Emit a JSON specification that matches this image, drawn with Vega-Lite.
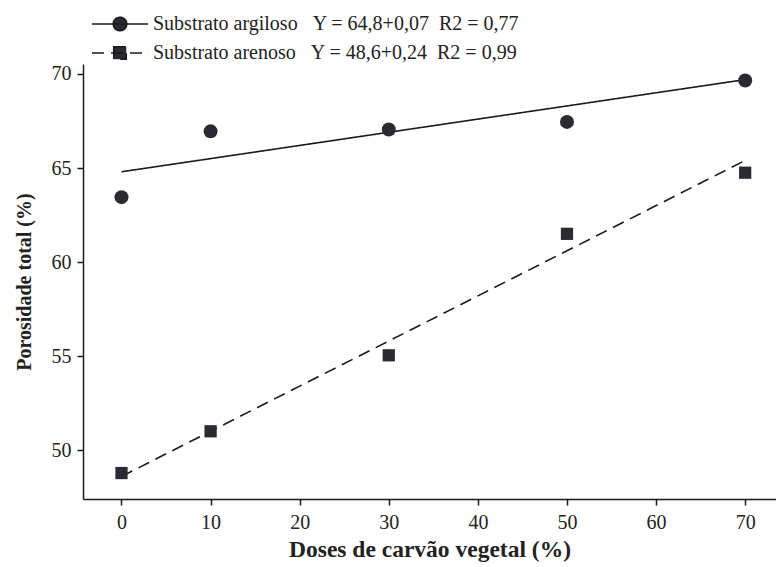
{
  "$schema": "https://vega.github.io/schema/vega-lite/v6.json",
  "autosize": "none",
  "width": 693,
  "height": 435,
  "padding": {"left": 83, "top": 64, "right": 0, "bottom": 68},
  "background": "white",
  "config": {
    "view": {"stroke": null},
    "font": "Liberation Serif",
    "axis": {
      "grid": false,
      "domainColor": "#1a1a1a",
      "domainWidth": 1.5,
      "tickColor": "#1a1a1a",
      "tickWidth": 1.5,
      "tickSize": 6,
      "labelFont": "Liberation Serif",
      "labelFontSize": 20,
      "labelColor": "#222222",
      "titleFont": "Liberation Serif",
      "titleFontSize": 20,
      "titleFontWeight": "bold",
      "titleColor": "#222222"
    }
  },
  "data": {
    "values": [
      {"dose": 0, "porosidade": 63.45, "substrato": "Substrato argiloso", "tipo": "obs"},
      {"dose": 10, "porosidade": 66.95, "substrato": "Substrato argiloso", "tipo": "obs"},
      {"dose": 30, "porosidade": 67.05, "substrato": "Substrato argiloso", "tipo": "obs"},
      {"dose": 50, "porosidade": 67.45, "substrato": "Substrato argiloso", "tipo": "obs"},
      {"dose": 70, "porosidade": 69.65, "substrato": "Substrato argiloso", "tipo": "obs"},
      {"dose": 0, "porosidade": 48.78, "substrato": "Substrato arenoso", "tipo": "obs"},
      {"dose": 10, "porosidade": 51.0, "substrato": "Substrato arenoso", "tipo": "obs"},
      {"dose": 30, "porosidade": 55.04, "substrato": "Substrato arenoso", "tipo": "obs"},
      {"dose": 50, "porosidade": 61.5, "substrato": "Substrato arenoso", "tipo": "obs"},
      {"dose": 70, "porosidade": 64.75, "substrato": "Substrato arenoso", "tipo": "obs"},
      {"dose": 0, "porosidade": 64.8, "substrato": "Substrato argiloso", "tipo": "fit"},
      {"dose": 70, "porosidade": 69.7, "substrato": "Substrato argiloso", "tipo": "fit"},
      {"dose": 0, "porosidade": 48.6, "substrato": "Substrato arenoso", "tipo": "fit"},
      {"dose": 70, "porosidade": 65.4, "substrato": "Substrato arenoso", "tipo": "fit"}
    ]
  },
  "encoding": {
    "x": {
      "field": "dose",
      "type": "quantitative",
      "scale": {"domain": [-4.32, 73.46], "nice": false, "zero": false},
      "axis": {"values": [0, 10, 20, 30, 40, 50, 60, 70], "title": "Doses de carvão vegetal (%)", "titleFontSize": 23.5, "labelPadding": 7, "titlePadding": 5}
    },
    "y": {
      "field": "porosidade",
      "type": "quantitative",
      "scale": {"domain": [47.4, 70.53], "nice": false, "zero": false},
      "axis": {"values": [50, 55, 60, 65, 70], "title": "Porosidade total (%)", "labelPadding": 6, "titlePadding": 17}
    }
  },
  "layer": [
    {
      "transform": [{"filter": "datum.tipo == 'fit'"}],
      "mark": {"type": "line", "color": "#1a1a1a", "strokeWidth": 1.6},
      "encoding": {
        "detail": {"field": "substrato"},
        "strokeDash": {
          "field": "substrato",
          "type": "nominal",
          "scale": {"domain": ["Substrato argiloso", "Substrato arenoso"], "range": [[1, 0], [12, 7]]},
          "legend": {
            "orient": "none",
            "legendX": 27,
            "legendY": -50,
            "title": null,
            "padding": 0,
            "symbolSize": 100,
            "symbolStrokeWidth": 1.6,
            "symbolStrokeColor": "#1a1a1a",
            "labelOffset": 23,
            "labelLimit": 0,
            "labelFont": "Liberation Serif",
            "labelFontSize": 20,
            "labelColor": "#222222",
            "rowPadding": 9,
            "labelExpr": "datum.label == 'Substrato argiloso' ? 'Substrato argiloso\u00a0\u00a0\u00a0Y = 64,8+0,07\u00a0\u00a0R2 = 0,77' : 'Substrato arenoso\u00a0\u00a0\u00a0Y = 48,6+0,24\u00a0\u00a0R2 = 0,99'",
            "encode": {
              "symbols": {
                "update": {
                  "shape": {"signal": "datum.value == 'Substrato argiloso' ? 'M-5.6,0H5.6M1.35,0A1.35,1.35,0,1,1,-1.35,0A1.35,1.35,0,1,1,1.35,0Z' : 'M-5.6,0H5.6M-1.25,-1.25H1.25V1.25H-1.25Z'"},
                  "fill": {"value": "#2a2a33"},
                  "stroke": {"value": "#1a1a1a"},
                  "strokeWidth": {"value": 1.6},
                  "strokeOpacity": {"value": 1},
                  "fillOpacity": {"value": 1},
                  "opacity": {"value": 1},
                  "strokeDash": {"signal": "datum.value == 'Substrato argiloso' ? [1,0] : [18,6]"}
                }
              }
            }
          }
        }
      }
    },
    {
      "transform": [{"filter": "datum.tipo == 'obs' && datum.substrato == 'Substrato argiloso'"}],
      "mark": {"type": "point", "shape": "circle", "size": 196, "filled": true, "opacity": 1, "color": "#2a2a33"}
    },
    {
      "transform": [{"filter": "datum.tipo == 'obs' && datum.substrato == 'Substrato arenoso'"}],
      "mark": {"type": "point", "shape": "square", "size": 150, "filled": true, "opacity": 1, "color": "#2a2a33"}
    }
  ]
}
